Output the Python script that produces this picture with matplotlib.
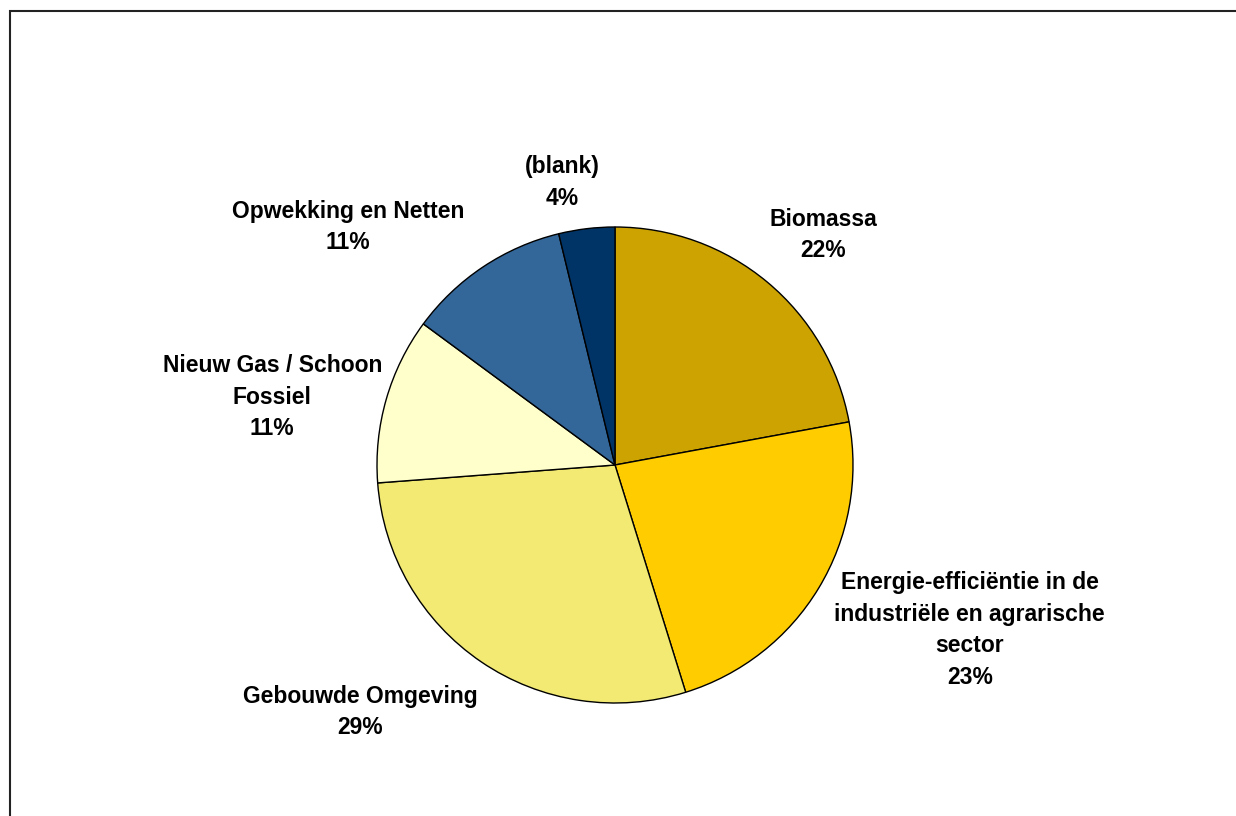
import matplotlib
matplotlib.use("Agg")
import matplotlib.pyplot as plt
import matplotlib.patches as mpatches
import numpy as np

plt.rcParams['font.family'] = ['Liberation Sans', 'DejaVu Sans']

# data (shares in %)
categories = ["Biomassa",
              "Energie-efficiëntie in de\nindustriële en agrarische\nsector",
              "Gebouwde Omgeving",
              "Nieuw Gas / Schoon\nFossiel",
              "Opwekking en Netten",
              "(blank)"]
shares = [22.1, 23.1, 28.6, 11.3, 11.1, 3.8]

# styling
colors = ["#CCA300", "#FFCC00", "#F2EA72", "#FFFFCC", "#336699", "#003366"]
label_offsets = [(56, 47), (151, -42), (-121, -50), (-114, 2), (-135, 40), (-24, 46)]

W, H = 1236, 816
fig = plt.figure(figsize=(W / 100, H / 100), dpi=100)
ax = fig.add_axes([0, 0, 1, 1])

cx, cy, R = 615, H - 465, 238
wedges, _ = ax.pie(shares, colors=colors, startangle=90, counterclock=False,
                   center=(cx, cy), radius=R, frame=True,
                   wedgeprops=dict(edgecolor='black', linewidth=1.0))
ax.set_xlim(0, W)
ax.set_ylim(0, H)
ax.set_aspect('equal')
ax.axis('off')

for w, name, val, off in zip(wedges, categories, shares, label_offsets):
    mid = np.deg2rad((w.theta1 + w.theta2) / 2)
    px, py = cx + R * np.cos(mid), cy + R * np.sin(mid)
    ax.annotate(f"{name}\n{val:.0f}%", xy=(px, py), xytext=off,
                textcoords='offset pixels', ha='center', va='center',
                fontsize=16.5, fontweight='bold', linespacing=1.48, color='black')

# outer frame
fig.patches.append(mpatches.Rectangle((10, -20), W + 20, H - 11 + 20,
                                      transform=None, fill=False,
                                      edgecolor='#222222', linewidth=1.5))

fig.savefig("out.png", dpi=100)
